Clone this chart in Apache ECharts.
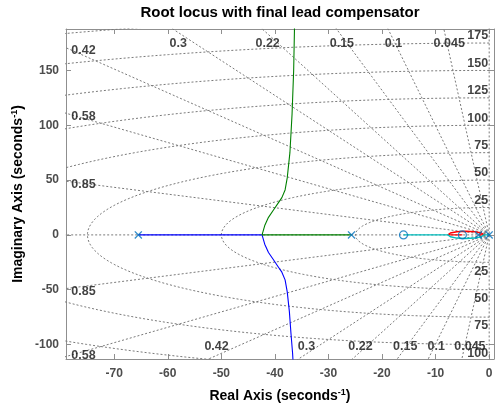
<!DOCTYPE html>
<html><head><meta charset="utf-8">
<script src="https://cdn.jsdelivr.net/npm/echarts@6/dist/echarts.min.js"></script>
<style>html,body{margin:0;padding:0;background:#fff}#c{width:496px;height:408px}</style>
</head><body><div id="c"></div>
<script>
// ---- data ----
const xTicks = [-70, -60, -50, -40, -30, -20, -10, 0];
const yTicks = [-100, -50, 0, 50, 100, 150];
const zetaValues = [0.045, 0.1, 0.15, 0.22, 0.3, 0.42, 0.58, 0.85];
const wnValues = [25, 50, 75, 100, 125, 150, 175, 200];
const poles = [-65.5, -25.7, -2.0, 0];
const zeros = [-16, -5];
// root-locus branches as [real, imag]
const branchBlue = [[-65.5,0],[-42.4,0],[-41.9,-8.5],[-41.2,-16],[-40.3,-22.5],[-39.4,-29],[-38.7,-34],[-38.1,-41],[-37.7,-52],[-37.3,-70],[-37.0,-90],[-36.7,-108],[-36.5,-125]];
const branchGreen = [[-25.7,0],[-42.4,0],[-41.9,8.5],[-41.2,16],[-40.3,22.5],[-39.4,29],[-38.7,34],[-38.1,41],[-37.7,52],[-37.2,75],[-36.8,110],[-36.5,150],[-36.3,200]];
const branchRed = [[-2.0,0],[-1.0,0],[-1.11,0.87],[-1.45,1.68],[-2.68,2.9],[-4.35,3.35],[-6.03,2.9],[-7.25,1.68],[-7.59,0.87],[-7.7,0],[-5,0]];
const branchCyan = [[0,0],[-1.0,0],[-1.11,-0.87],[-1.45,-1.68],[-2.68,-2.9],[-4.35,-3.35],[-6.03,-2.9],[-7.25,-1.68],[-7.59,-0.87],[-7.7,0],[-16,0]];

const xMin = -79.0, xMax = 0.9, yMin = -113.2, yMax = 187.8;

// ---- s-plane grid (sgrid) built from zeta / wn ----
const gridStyle = {color: '#7a7a7a', width: 1, type: [2, 2]};
const gridSeries = [];
function gridLine(pts) {
  gridSeries.push({type: 'line', data: pts, showSymbol: false, silent: true, clip: true,
    lineStyle: gridStyle, z: 1, animation: false});
}
const R = 400;
zetaValues.forEach(z => {
  const w = Math.sqrt(1 - z * z);
  gridLine([[0, 0], [-R * z, R * w]]);
  gridLine([[0, 0], [-R * z, -R * w]]);
});
gridLine([[0, 0], [-R, 0]]);
gridLine([[0, -R], [0, R]]);
wnValues.forEach(wn => {
  const pts = [];
  for (let i = 0; i <= 180; i++) {
    const t = Math.PI / 2 + Math.PI * i / 180;
    pts.push([wn * Math.cos(t), wn * Math.sin(t)]);
  }
  gridLine(pts);
});

// labels for the grid
const zLabels = [];
zetaValues.forEach(z => {
  const s = Math.sqrt(1 - z * z) / z;
  const xTop = -yMax / s;
  if (xTop >= xMin) zLabels.push({value: [xTop + 1.0, yMax - 13], name: String(z), label: {align: 'center'}});
  else {
    const yl = -s * xMin;
    zLabels.push({value: [xMin + 1.0, yl - 3], name: String(z), label: {align: 'left'}});
  }
  const xBot = yMin / s;
  if (xBot >= xMin) zLabels.push({value: [xBot + 1.5, yMin + 11.5], name: String(z), label: {align: 'center'}});
  else {
    const yl = s * xMin;
    zLabels.push({value: [xMin + 1.0, Math.max(yl - 3, yMin + 3)], name: String(z), label: {align: 'left'}});
  }
});
const wLabels = [];
wnValues.forEach(wn => {
  if (wn + 6.5 < yMax - 4) wLabels.push({value: [-0.2, wn + 6.5], name: String(wn)});
  if (-wn - 8 > yMin) wLabels.push({value: [-0.2, -wn - 8], name: String(wn)});
});

const labelFont = {fontFamily: 'Liberation Sans, Arial, sans-serif', fontSize: 12.5, fontWeight: 'bold', color: '#111'};

const xCross = 'path://M0,1.2L1.2,0L5,3.8L8.8,0L10,1.2L6.2,5L10,8.8L8.8,10L5,6.2L1.2,10L0,8.8L3.8,5Z';
const markerColor = '#0072BD';

const series = gridSeries.concat([
  {type: 'scatter', data: zLabels, symbolSize: 0, silent: true, z: 5,
    label: Object.assign({show: true, position: 'inside', formatter: p => p.name, verticalAlign: 'middle'}, labelFont)},
  {type: 'scatter', data: wLabels, symbolSize: 0, silent: true, z: 5,
    label: Object.assign({show: true, position: 'inside', formatter: p => p.name, align: 'right', verticalAlign: 'middle'}, labelFont)},
  {type: 'line', data: branchBlue, showSymbol: false, lineStyle: {color: '#0000FF', width: 1.1}, z: 3},
  {type: 'line', data: branchGreen, showSymbol: false, lineStyle: {color: '#008000', width: 1.1}, z: 3},
  {type: 'line', data: branchRed, showSymbol: false, lineStyle: {color: '#FF0000', width: 1.4}, z: 3},
  {type: 'line', data: branchCyan, showSymbol: false, lineStyle: {color: '#00BFBF', width: 1.4}, z: 3},
  {type: 'scatter', data: poles.map(p => [p, 0]), symbol: xCross, symbolSize: 8,
    itemStyle: {color: markerColor}, z: 6},
  {type: 'scatter', data: zeros.map(p => [p, 0]), symbol: 'circle', symbolSize: 8,
    itemStyle: {color: 'rgba(0,0,0,0)', borderColor: markerColor, borderWidth: 1.2}, z: 6}
]);

const axisGray = '#8f8f8f';
const tickFont = {fontFamily: 'Liberation Sans, Arial, sans-serif', fontSize: 12, fontWeight: 'bold', color: '#4d4d4d'};
const titleRich = {
  a: {fontFamily: 'Liberation Sans, Arial', fontSize: 14, fontWeight: 'bold', fill: '#000', color: '#000'},
  s: {fontFamily: 'Liberation Sans, Arial', fontSize: 9, fontWeight: 'bold', fill: '#000', color: '#000', verticalAlign: 'top', padding: [0, 0, 7, 0]}
};

const chart = echarts.init(document.getElementById('c'), null, {renderer: 'canvas'});
chart.setOption({
  animation: false,
  backgroundColor: '#fff',
  grid: {left: 66, right: 2, top: 29, bottom: 49, containLabel: false},
  xAxis: [
    {type: 'value', min: xMin, max: xMax, position: 'bottom',
      axisLine: {onZero: false, lineStyle: {color: axisGray}},
      axisTick: {inside: true, length: 5, lineStyle: {color: axisGray}, customValues: xTicks},
      axisLabel: Object.assign({margin: 9, customValues: xTicks}, tickFont),
      splitLine: {show: false}},
    {type: 'value', min: xMin, max: xMax, position: 'top',
      axisLine: {onZero: false, lineStyle: {color: axisGray}},
      axisTick: {inside: true, length: 5, lineStyle: {color: axisGray}, customValues: xTicks},
      axisLabel: {show: false}, splitLine: {show: false}}
  ],
  yAxis: [
    {type: 'value', min: yMin, max: yMax, position: 'left',
      axisLine: {show: true, onZero: false, lineStyle: {color: axisGray}},
      axisTick: {show: true, inside: true, length: 5, lineStyle: {color: axisGray}, customValues: yTicks},
      axisLabel: Object.assign({margin: 7, customValues: yTicks}, tickFont),
      splitLine: {show: false}},
    {type: 'value', min: yMin, max: yMax, position: 'right',
      axisLine: {show: true, onZero: false, lineStyle: {color: axisGray}},
      axisTick: {show: true, inside: true, length: 5, lineStyle: {color: axisGray}, customValues: yTicks},
      axisLabel: {show: false}, splitLine: {show: false}}
  ],
  graphic: [
    {type: 'text', x: 280, y: 13, style: {text: 'Root locus with final lead compensator', textAlign: 'center', textVerticalAlign: 'middle',
      font: 'bold 15px "Liberation Sans", Arial, sans-serif', fill: '#000'}},
    {type: 'text', x: 280, y: 396, style: {text: '{a|Real Axis (seconds}{s|-1}{a|)}', textAlign: 'center', textVerticalAlign: 'middle', rich: titleRich}},
    {type: 'text', x: 18, y: 194, rotation: Math.PI / 2, style: {text: '{a|Imaginary Axis (seconds}{s|-1}{a|)}', textAlign: 'center', textVerticalAlign: 'middle', rich: titleRich}}
  ],
  series: series
});
</script></body></html>
